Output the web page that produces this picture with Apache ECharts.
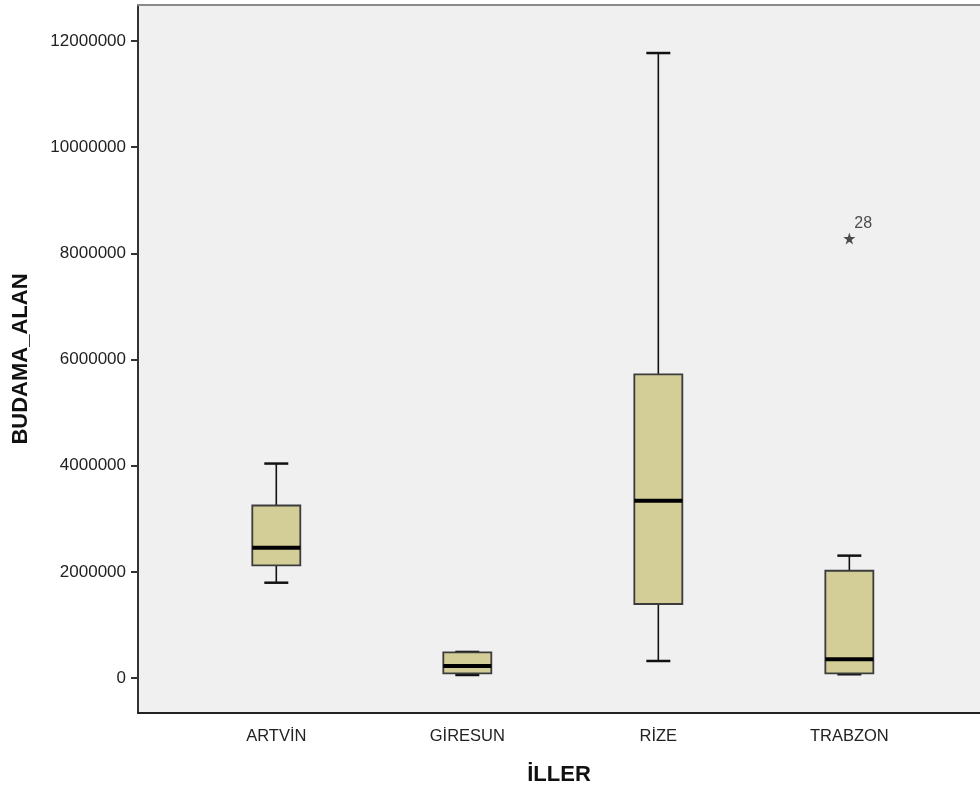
<!DOCTYPE html>
<html>
<head>
<meta charset="utf-8">
<script src="https://cdn.jsdelivr.net/npm/echarts@6/dist/echarts.min.js"></script>
<style>html,body{margin:0;padding:0;background:#fff;}#c{width:980px;height:787px;}</style>
</head>
<body>
<div id="c"></div>
<script>
// Categories (Turkish provinces)
const categories = ['ARTVİN', 'GİRESUN', 'RİZE', 'TRABZON'];
// Box statistics: [lower whisker, Q1, median, Q3, upper whisker]
const lowerWhisker = [1795000, 56000, 320000, 70000];
const q1Values     = [2120000, 88000, 1394000, 88000];
const medianValues = [2455000, 226000, 3340000, 352000];
const q3Values     = [3250000, 484000, 5720000, 2020000];
const upperWhisker = [4040000, 490000, 11775000, 2305000];
// Extreme outlier (case 28, TRABZON)
const outlierCategory = ['TRABZON'];
const outlierValue = [8280000];
const outlierLabel = ['28'];
// Y tick labels
const yTicks = [0, 2000000, 4000000, 6000000, 8000000, 10000000, 12000000];

const boxData = categories.map((c, i) => [i + 1, lowerWhisker[i], q1Values[i], medianValues[i], q3Values[i], upperWhisker[i]]);
const outlierData = outlierCategory.map((c, i) => ({
  value: [categories.indexOf(c) + 1, outlierValue[i]],
  label: { show: true, formatter: outlierLabel[i] }
}));

const BOX_W = 48, CAP_W = 24;
function renderBox(params, api) {
  const x = api.value(0);
  const pMin = api.coord([x, api.value(1)]);
  const pQ1 = api.coord([x, api.value(2)]);
  const pMed = api.coord([x, api.value(3)]);
  const pQ3 = api.coord([x, api.value(4)]);
  const pMax = api.coord([x, api.value(5)]);
  const cx = pMin[0];
  const lineStyle = { stroke: '#111', lineWidth: 1.6 };
  return {
    type: 'group',
    children: [
      { type: 'line', shape: { x1: cx, y1: pMax[1], x2: cx, y2: pQ3[1] }, style: lineStyle },
      { type: 'line', shape: { x1: cx, y1: pQ1[1], x2: cx, y2: pMin[1] }, style: lineStyle },
      { type: 'line', shape: { x1: cx - CAP_W / 2, y1: pMax[1], x2: cx + CAP_W / 2, y2: pMax[1] }, style: { stroke: '#111', lineWidth: 2.5 } },
      { type: 'line', shape: { x1: cx - CAP_W / 2, y1: pMin[1], x2: cx + CAP_W / 2, y2: pMin[1] }, style: { stroke: '#111', lineWidth: 2.5 } },
      { type: 'rect', shape: { x: cx - BOX_W / 2, y: pQ3[1], width: BOX_W, height: pQ1[1] - pQ3[1] },
        style: { fill: '#d3ce98', stroke: '#3c3c3c', lineWidth: 1.8 } },
      { type: 'line', shape: { x1: cx - BOX_W / 2, y1: pMed[1], x2: cx + BOX_W / 2, y2: pMed[1] }, style: { stroke: '#000', lineWidth: 4 } }
    ]
  };
}

const X_MIN = 0.276, X_MAX = 4.684;
const chart = echarts.init(document.getElementById('c'), null, { renderer: 'canvas' });
chart.setOption({
  backgroundColor: '#ffffff',
  animation: false,
  grid: { left: 138, top: 5, right: 0, bottom: 74, show: true, backgroundColor: '#f0f0f0', borderWidth: 0, containLabel: false, outerBoundsMode: 'none' },
  xAxis: [{
    type: 'value', min: X_MIN, max: X_MAX,
    splitLine: { show: false },
    axisLine: { show: true, onZero: false, lineStyle: { color: '#222', width: 2 } },
    axisTick: { show: false },
    axisLabel: {
      customValues: [1, 2, 3, 4],
      formatter: v => categories[Math.round(v) - 1] || '',
      fontFamily: 'Liberation Sans', fontSize: 16.5, color: '#222', margin: 15
    },
    name: 'İLLER', nameLocation: 'middle', nameGap: 51,
    nameTextStyle: { fontFamily: 'Liberation Sans', fontWeight: 'bold', fontSize: 22, color: '#111' }
  }, {
    type: 'value', position: 'top', min: X_MIN, max: X_MAX,
    splitLine: { show: false }, axisTick: { show: false }, axisLabel: { show: false },
    axisLine: { show: true, onZero: false, lineStyle: { color: '#8a8a8a', width: 2 } }
  }],
  yAxis: {
    type: 'value', min: -660000, max: 12680000,
    splitLine: { show: false },
    axisLine: { show: true, lineStyle: { color: '#333', width: 2 } },
    axisTick: { show: true, customValues: yTicks, length: 7, lineStyle: { color: '#333', width: 2 } },
    axisLabel: { customValues: yTicks, formatter: v => String(Math.round(v)), fontFamily: 'Liberation Sans', fontSize: 17, color: '#222', margin: 12 },
    name: 'BUDAMA_ALAN', nameLocation: 'middle', nameGap: 106, nameRotate: 90,
    nameTextStyle: { fontFamily: 'Liberation Sans', fontWeight: 'bold', fontSize: 22, color: '#111' }
  },
  series: [
    { type: 'custom', renderItem: renderBox, data: boxData, encode: { x: 0, y: [1, 2, 3, 4, 5] }, z: 2 },
    {
      type: 'scatter', data: outlierData, z: 3,
      symbol: 'path://M50,0 L61.8,36.2 L100,36.2 L69.1,58.8 L80.9,95.1 L50,72.7 L19.1,95.1 L30.9,58.8 L0,36.2 L38.2,36.2 Z',
      symbolSize: 12, itemStyle: { color: '#222' },
      label: { position: [11, -17], align: 'left', verticalAlign: 'top', fontFamily: 'Liberation Sans', fontSize: 16, color: '#222' }
    }
  ]
});
</script>
</body>
</html>
